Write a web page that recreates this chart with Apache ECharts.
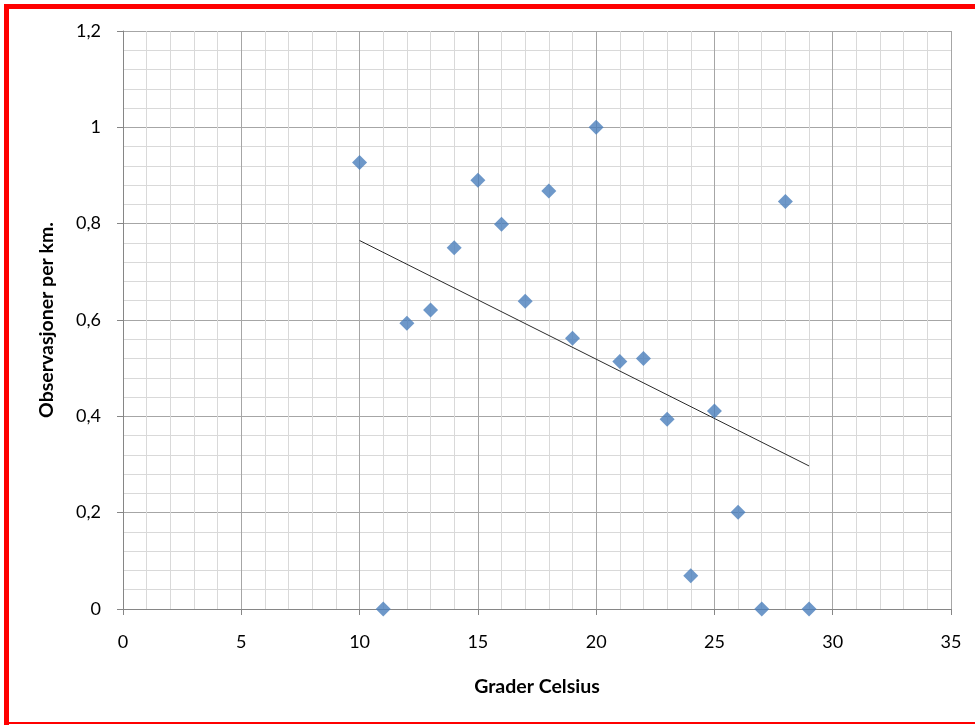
<!DOCTYPE html>
<html>
<head>
<meta charset="utf-8">
<script src="https://cdn.jsdelivr.net/npm/echarts@6/dist/echarts.min.js"></script>
<style>
  html, body { margin: 0; padding: 0; background: #fff; }
  #chart { position: absolute; left: 0; top: 0; width: 975px; height: 725px; }
  .red { position: absolute; background: #ff0000; }
</style>
</head>
<body>
<div id="chart"></div>
<div class="red" style="left:4px;top:4px;width:5px;height:721px;"></div>
<div class="red" style="left:4px;top:4px;width:971px;height:5px;"></div>
<div class="red" style="left:4px;top:722px;width:971px;height:2px;"></div>
<script>
// Temperature (degrees Celsius) and observations per km
var temperatures = [10, 11, 12, 13, 14, 15, 16, 17, 18, 19, 20, 21, 22, 23, 24, 25, 26, 27, 28, 29];
var observations = [0.927, 0, 0.593, 0.621, 0.750, 0.890, 0.799, 0.639, 0.868, 0.562, 1.0, 0.514, 0.520, 0.394, 0.069, 0.411, 0.201, 0, 0.846, 0];
// Linear trend line endpoints
var trendX = [10, 29];
var trendY = [0.765, 0.297];
var xTicks = [0, 5, 10, 15, 20, 25, 30, 35];
var yTicks = [0, 0.2, 0.4, 0.6, 0.8, 1, 1.2];

var scatterData = temperatures.map(function (t, i) { return [t, observations[i]]; });
var trendData = trendX.map(function (t, i) { return [t, trendY[i]]; });

var font = 'Lato, "Open Sans", sans-serif';
var chart = echarts.init(document.getElementById('chart'), null, { renderer: 'canvas' });
chart.setOption({
  animation: false,
  backgroundColor: '#ffffff',
  grid: { left: 123, right: 24, top: 31, bottom: 116, containLabel: false },
  xAxis: {
    type: 'value',
    min: xTicks[0], max: xTicks[xTicks.length - 1], interval: 5,
    name: 'Grader Celsius', nameLocation: 'middle', nameGap: 68,
    nameTextStyle: { fontFamily: font, fontWeight: 'bold', fontSize: 19.5, color: '#000' },
    axisLine: { show: true, lineStyle: { color: '#868686', width: 1 } },
    axisTick: { show: true, length: 6, inside: false, lineStyle: { color: '#868686' } },
    axisLabel: { fontFamily: font, fontSize: 18, color: '#000', margin: 24 },
    splitLine: { show: true, lineStyle: { color: '#a6a6a6', width: 1 } },
    minorTick: { show: false, splitNumber: 5 },
    minorSplitLine: { show: true, lineStyle: { color: '#d9d9d9', width: 1 } }
  },
  yAxis: {
    type: 'value',
    min: yTicks[0], max: yTicks[yTicks.length - 1], interval: 0.2,
    name: 'Observasjoner per km.', nameLocation: 'middle', nameGap: 66, nameRotate: 90,
    nameTextStyle: { fontFamily: font, fontWeight: 'bold', fontSize: 19.5, color: '#000' },
    axisLine: { show: true, lineStyle: { color: '#868686', width: 1 } },
    axisTick: { show: true, length: 6, inside: false, lineStyle: { color: '#868686' } },
    axisLabel: {
      fontFamily: font, fontSize: 18, color: '#000', margin: 22,
      formatter: function (v) { return String(Math.round(v * 10) / 10).replace('.', ','); }
    },
    splitLine: { show: true, lineStyle: { color: '#a6a6a6', width: 1 } },
    minorTick: { show: false, splitNumber: 5 },
    minorSplitLine: { show: true, lineStyle: { color: '#d9d9d9', width: 1 } }
  },
  series: [
    {
      type: 'line',
      data: trendData,
      symbol: 'none',
      lineStyle: { color: '#2b2b2b', width: 1 },
      z: 2,
      silent: true
    },
    {
      type: 'scatter',
      data: scatterData,
      symbol: 'diamond',
      symbolSize: 15,
      itemStyle: { color: '#4a7ebb' },
      z: 3
    }
  ]
});
</script>
</body>
</html>
